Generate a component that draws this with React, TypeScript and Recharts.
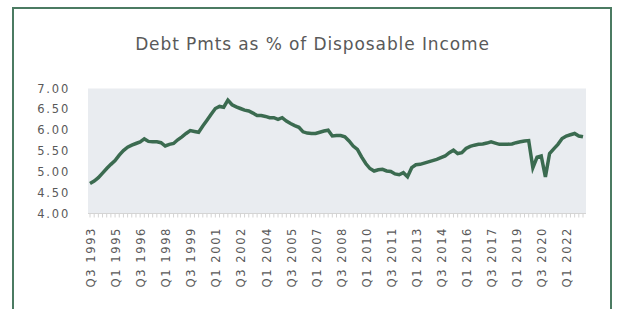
import React from "react";
import { LineChart, Line, XAxis, YAxis, CartesianGrid } from "recharts";

// quarterly categories Q3 1993 .. Q1 2023
const quarters: string[] = [];
for (let y = 1993, q = 3; y < 2023 || (y === 2023 && q <= 1); q++) {
  if (q > 4) { q = 1; y++; if (y === 2023 && q > 1) break; }
  quarters.push(`Q${q} ${y}`);
}

const debtPct = [
  4.72, 4.78, 4.86, 4.97, 5.08, 5.18, 5.27, 5.40, 5.51, 5.59,
  5.64, 5.68, 5.72, 5.79, 5.73, 5.72, 5.72, 5.70, 5.62, 5.66,
  5.68, 5.77, 5.84, 5.92, 5.99, 5.97, 5.95, 6.10, 6.24, 6.38,
  6.52, 6.57, 6.55, 6.72, 6.61, 6.56, 6.52, 6.48, 6.46, 6.41,
  6.35, 6.35, 6.33, 6.30, 6.30, 6.26, 6.30, 6.22, 6.16, 6.11,
  6.07, 5.96, 5.93, 5.92, 5.92, 5.95, 5.98, 6.00, 5.86, 5.87,
  5.87, 5.84, 5.74, 5.62, 5.54, 5.36, 5.20, 5.08, 5.02, 5.05,
  5.06, 5.02, 5.01, 4.95, 4.93, 4.98, 4.88, 5.10, 5.17, 5.18,
  5.21, 5.24, 5.27, 5.30, 5.34, 5.38, 5.46, 5.52, 5.44, 5.46,
  5.56, 5.61, 5.64, 5.66, 5.67, 5.69, 5.72, 5.69, 5.66, 5.66,
  5.66, 5.67, 5.70, 5.72, 5.74, 5.75, 5.10, 5.35, 5.38, 4.88,
  5.44, 5.55, 5.66, 5.80, 5.86, 5.89, 5.92, 5.86, 5.84,
];

const yTicks = [4, 4.5, 5, 5.5, 6, 6.5, 7];

const data = quarters.slice(0, debtPct.length).map((q, i) => ({ q, v: debtPct[i] }));

const FONT = "'DejaVu Sans', sans-serif";
const TEXT = "#595959";

function QuarterTick(props: any) {
  const { x, y, payload, index } = props;
  return (
    <g>
      <line x1={x} y1={y} x2={x} y2={y + 4} stroke="#d4d4d4" strokeWidth={1} />
      {index % 6 === 0 && (
        <text
          transform={`translate(${x + 1},${y + 13.5}) rotate(-90)`}
          textAnchor="end"
          dy="0.35em"
          fontSize={11.5}
          letterSpacing={1.6}
          fill={TEXT}
          fontFamily={FONT}
        >
          {payload.value}
        </text>
      )}
    </g>
  );
}

export default function App() {
  return (
    <div style={{ position: "fixed", left: 0, top: 0, width: 621, height: 309, background: "#fff", overflow: "hidden" }}>
      {/* outer frame */}
      <div style={{
        position: "absolute", left: 12, top: 7, width: 600, height: 330,
        border: "2px solid #4b7b62", boxSizing: "border-box",
      }} />
      <div style={{
        position: "absolute", left: 12, width: 601, top: 34, textAlign: "center",
        fontFamily: FONT, fontSize: 17, color: TEXT, letterSpacing: 0.9,
      }}>
        Debt Pmts as % of Disposable Income
      </div>
      <div style={{ position: "absolute", left: 0, top: 0 }}>
        <LineChart width={621} height={309} data={data}
          margin={{ top: 88.5, right: 35, bottom: 15.5, left: 28 }}>
          <CartesianGrid fill="#e9ecf0" horizontal={false} vertical={false} stroke="none" />
          <XAxis dataKey="q" interval={0} height={80} tickSize={0} tickMargin={0}
            tickLine={false} axisLine={{ stroke: "#d4d4d4", strokeWidth: 1 }}
            padding={{ left: 2, right: 3 }} tick={<QuarterTick />} />
          <YAxis domain={[4, 7]} ticks={yTicks} width={60} tickLine={false} axisLine={false}
            tickMargin={12} tickFormatter={(v: number) => v.toFixed(2)}
            tick={{ fontSize: 11.5, fill: TEXT, fontFamily: FONT, letterSpacing: 1.8 }} />
          <Line type="linear" dataKey="v" stroke="#3b6b50" strokeWidth={3.5}
            dot={false} activeDot={false} isAnimationActive={false} />
        </LineChart>
      </div>
    </div>
  );
}
